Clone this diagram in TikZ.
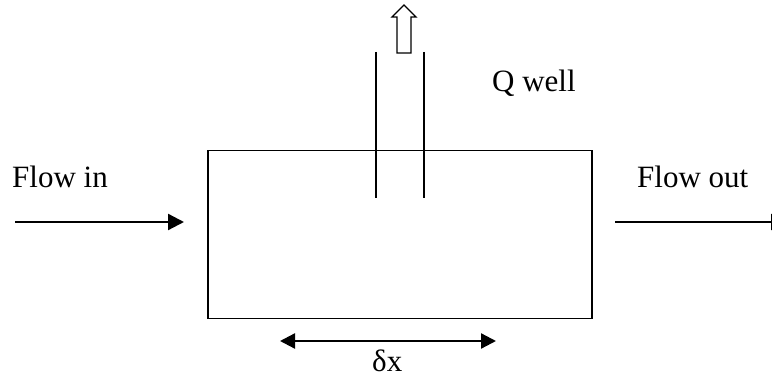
\documentclass[tikz,border=0pt]{standalone}
\usepackage{fontspec}
\setmainfont{Liberation Serif}
\usetikzlibrary{arrows.meta}
\begin{document}
\begin{tikzpicture}[x=1pt,y=-1pt,
  lbl/.style={anchor=base west,inner sep=0pt,font=\fontsize{31}{37}\selectfont},
  flow/.style={line width=2.3pt,-{Triangle[length=16pt,width=16pt]}},
  boxline/.style={line width=1.5pt}]
\useasboundingbox (0,0) rectangle (772,387);
\node[draw,boxline,minimum width=384pt,minimum height=168pt,anchor=north west,inner sep=0pt] (box) at (207,150) {};
% pipe
\coordinate (p1t) at (376,52); \coordinate (p1b) at (376,198);
\coordinate (p2t) at (424,52); \coordinate (p2b) at (424,198);
\draw[boxline] (p1t) -- (p1b);
\draw[boxline] (p2t) -- (p2b);
% hollow arrow
\draw[line width=1.3pt,line join=miter] (397,53) -- (397,17) -- (392,17) -- (404,5) -- (416,17) -- (411,17) -- (411,53) -- cycle;
% flow in
\coordinate (fi1) at (15,222); \coordinate (fi2) at (184,222);
\draw[flow] (fi1) -- (fi2);
% flow out
\coordinate (fo1) at (615,222); \coordinate (fo2) at (787,222);
\draw[flow] (fo1) -- (fo2);
% dx
\coordinate (dx1) at (280,341); \coordinate (dx2) at (496,341);
\draw[line width=2.3pt,{Triangle[length=15pt,width=15pt]}-{Triangle[length=15pt,width=15pt]}] (dx1) -- (dx2);
% labels
\node[lbl] (flowin) at (12,188) {Flow in};
\node[lbl] (flowout) at (637,188) {Flow out};
\node[lbl] (qwell) at (492,92) {Q well};
\node[lbl] (dx) at (372,372) {δx};
\end{tikzpicture}
\end{document}
